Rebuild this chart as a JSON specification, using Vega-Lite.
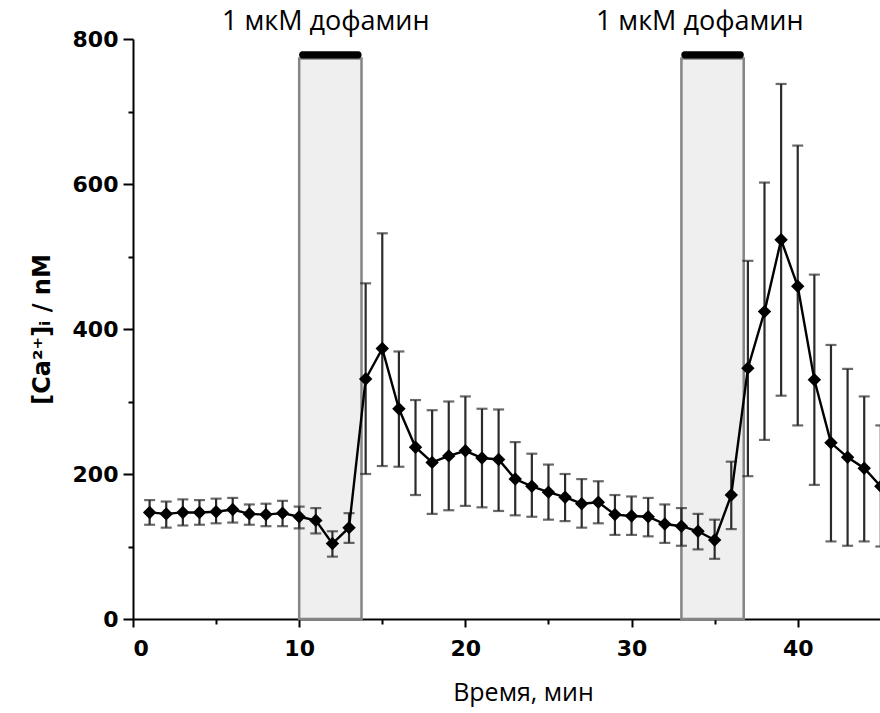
{
  "$schema": "https://vega.github.io/schema/vega-lite/v6.json",
  "autosize": {"type": "none"},
  "padding": {"left": 133, "top": 39, "right": 0, "bottom": 94},
  "width": 747,
  "height": 580,
  "background": "white",
  "config": {
    "view": {"stroke": null},
    "axis": {
      "domainColor": "black", "domainWidth": 2, "tickColor": "black", "tickWidth": 2,
      "labelFont": "DejaVu Sans", "labelFontWeight": "bold", "labelFontSize": 22, "labelColor": "black",
      "grid": false
    },
    "axisY": {
      "titleFont": "DejaVu Sans", "titleFontWeight": "bold", "titleFontSize": 24, "titleColor": "black",
      "titlePadding": 18
    },
    "axisX": {
      "titleFont": "Open Sans", "titleFontWeight": "normal", "titleFontSize": 25, "titleColor": "black"
    }
  },
  "datasets": {
    "pts": [
      {"t": 1, "v": 147, "lo": 130, "hi": 164},
      {"t": 2, "v": 145, "lo": 126, "hi": 162},
      {"t": 3, "v": 147, "lo": 129, "hi": 165},
      {"t": 4, "v": 147, "lo": 130, "hi": 164},
      {"t": 5, "v": 148, "lo": 132, "hi": 166},
      {"t": 6, "v": 151, "lo": 133, "hi": 167},
      {"t": 7, "v": 145, "lo": 130, "hi": 158},
      {"t": 8, "v": 144, "lo": 128, "hi": 159},
      {"t": 9, "v": 146, "lo": 128, "hi": 163},
      {"t": 10, "v": 141, "lo": 125, "hi": 155},
      {"t": 11, "v": 136, "lo": 118, "hi": 153},
      {"t": 12, "v": 104, "lo": 86, "hi": 121},
      {"t": 13, "v": 126, "lo": 105, "hi": 146},
      {"t": 14, "v": 331, "lo": 200, "hi": 463},
      {"t": 15, "v": 373, "lo": 211, "hi": 532},
      {"t": 16, "v": 290, "lo": 210, "hi": 369},
      {"t": 17, "v": 237, "lo": 171, "hi": 302},
      {"t": 18, "v": 216, "lo": 145, "hi": 288},
      {"t": 19, "v": 225, "lo": 150, "hi": 300},
      {"t": 20, "v": 232, "lo": 156, "hi": 307},
      {"t": 21, "v": 222, "lo": 154, "hi": 290},
      {"t": 22, "v": 220, "lo": 149, "hi": 289},
      {"t": 23, "v": 193, "lo": 143, "hi": 244},
      {"t": 24, "v": 183, "lo": 141, "hi": 228},
      {"t": 25, "v": 175, "lo": 137, "hi": 213},
      {"t": 26, "v": 168, "lo": 135, "hi": 200},
      {"t": 27, "v": 159, "lo": 126, "hi": 193},
      {"t": 28, "v": 161, "lo": 132, "hi": 190},
      {"t": 29, "v": 144, "lo": 116, "hi": 171},
      {"t": 30, "v": 142, "lo": 116, "hi": 169},
      {"t": 31, "v": 141, "lo": 114, "hi": 167},
      {"t": 32, "v": 131, "lo": 105, "hi": 158},
      {"t": 33, "v": 128, "lo": 101, "hi": 153},
      {"t": 34, "v": 121, "lo": 96, "hi": 145},
      {"t": 35, "v": 109, "lo": 83, "hi": 137},
      {"t": 36, "v": 171, "lo": 124, "hi": 217},
      {"t": 37, "v": 346, "lo": 197, "hi": 494},
      {"t": 38, "v": 424, "lo": 247, "hi": 602},
      {"t": 39, "v": 523, "lo": 308, "hi": 738},
      {"t": 40, "v": 459, "lo": 267, "hi": 653},
      {"t": 41, "v": 330, "lo": 185, "hi": 475},
      {"t": 42, "v": 243, "lo": 107, "hi": 378},
      {"t": 43, "v": 223, "lo": 101, "hi": 345},
      {"t": 44, "v": 208, "lo": 107, "hi": 307},
      {"t": 45, "v": 183, "lo": 100, "hi": 267}
    ],
    "shades": [
      {"start": 10, "end": 13.75},
      {"start": 33, "end": 36.75}
    ],
    "labels": [
      {"x": 11.6, "y": 824, "label": "1 мкМ дофамин"},
      {"x": 34.1, "y": 824, "label": "1 мкМ дофамин"}
    ]
  },
  "layer": [
    {
      "data": {"name": "shades"},
      "mark": {"type": "rect", "fill": "#efefef", "stroke": "#858585", "strokeWidth": 2.5},
      "encoding": {
        "x": {
          "field": "start", "type": "quantitative",
          "scale": {"domain": [0, 44.95], "nice": false, "zero": false},
          "axis": {
            "values": [0, 5, 10, 15, 20, 25, 30, 35, 40],
            "labelExpr": "datum.value % 10 === 0 ? datum.label : ''",
            "tickSize": {"condition": {"test": "datum.value % 10 !== 0", "value": 5}, "value": 8},
            "labelPadding": 11,
            "title": "Время, мин",
            "titleX": 390, "titleY": 73, "titleBaseline": "middle", "titleAnchor": "middle", "titleAlign": "center"
          }
        },
        "x2": {"field": "end"},
        "y": {
          "datum": 0, "type": "quantitative",
          "scale": {"domain": [0, 800], "nice": false},
          "axis": {
            "values": [0, 100, 200, 300, 400, 500, 600, 700, 800],
            "labelExpr": "datum.value % 200 === 0 ? datum.label : ''",
            "tickSize": {"condition": {"test": "datum.value % 200 !== 0", "value": 5}, "value": 10},
            "labelPadding": 5,
            "title": "[Ca²⁺]ᵢ / nM"
          }
        },
        "y2": {"datum": 773}
      }
    },
    {
      "data": {"name": "shades"},
      "mark": {"type": "rect", "fill": "black", "cornerRadius": 3},
      "encoding": {
        "x": {"field": "start", "type": "quantitative"},
        "x2": {"field": "end"},
        "y": {"datum": 773, "type": "quantitative"},
        "y2": {"datum": 783}
      }
    },
    {
      "data": {"name": "pts"},
      "mark": {"type": "rule", "stroke": "#2b2b2b", "strokeWidth": 2.2, "clip": true},
      "encoding": {
        "x": {"field": "t", "type": "quantitative"},
        "y": {"field": "lo", "type": "quantitative"},
        "y2": {"field": "hi"}
      }
    },
    {
      "data": {"name": "pts"},
      "mark": {"type": "tick", "orient": "horizontal", "color": "#2b2b2b", "size": 11, "thickness": 2.2, "clip": true},
      "encoding": {
        "x": {"field": "t", "type": "quantitative"},
        "y": {"field": "lo", "type": "quantitative"}
      }
    },
    {
      "data": {"name": "pts"},
      "mark": {"type": "tick", "orient": "horizontal", "color": "#2b2b2b", "size": 11, "thickness": 2.2, "clip": true},
      "encoding": {
        "x": {"field": "t", "type": "quantitative"},
        "y": {"field": "hi", "type": "quantitative"}
      }
    },
    {
      "data": {"name": "pts"},
      "mark": {"type": "line", "color": "black", "strokeWidth": 2.4, "clip": true},
      "encoding": {
        "x": {"field": "t", "type": "quantitative"},
        "y": {"field": "v", "type": "quantitative"}
      }
    },
    {
      "data": {"name": "pts"},
      "mark": {"type": "point", "shape": "diamond", "filled": true, "color": "black", "opacity": 1, "size": 180, "clip": true},
      "encoding": {
        "x": {"field": "t", "type": "quantitative"},
        "y": {"field": "v", "type": "quantitative"}
      }
    },
    {
      "data": {"name": "labels"},
      "mark": {"type": "text", "font": "Open Sans", "fontSize": 27, "color": "black", "align": "center", "baseline": "middle"},
      "encoding": {
        "x": {"field": "x", "type": "quantitative"},
        "y": {"field": "y", "type": "quantitative"},
        "text": {"field": "label"}
      }
    }
  ]
}
